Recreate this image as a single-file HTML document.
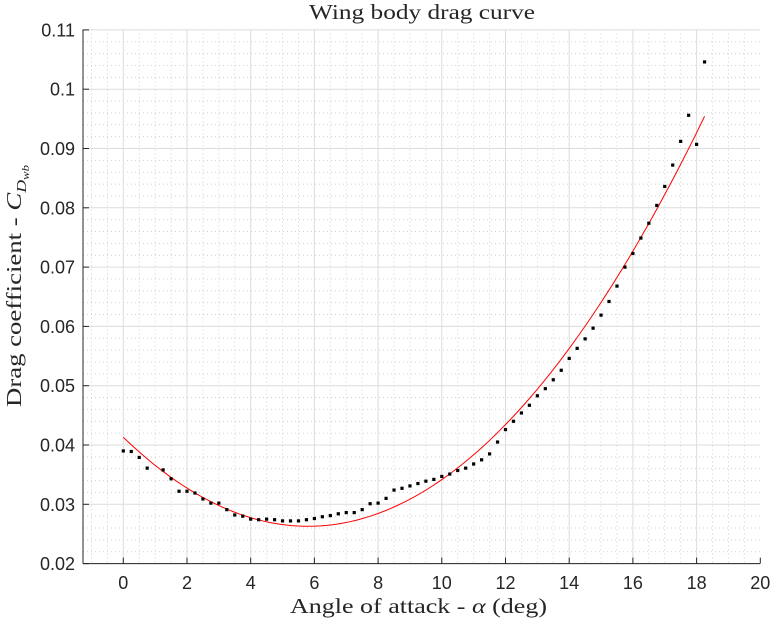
<!DOCTYPE html>
<html><head><meta charset="utf-8"><style>
html,body{margin:0;padding:0;background:#fff;}
svg{display:block;}
.tick{font-family:"Liberation Sans",sans-serif;font-size:18px;fill:#262626;}
.ser{font-family:"Liberation Serif",serif;fill:#262626;}
</style></head><body>
<svg id="chart" width="774" height="627" xmlns="http://www.w3.org/2000/svg">
<g id="grid"></g>
<g id="fit"></g>
<g id="pts"></g>
<g id="axes"></g>
<text class="ser" x="309" y="19" font-size="21" textLength="226" lengthAdjust="spacingAndGlyphs">Wing body drag curve</text>
<text class="ser" x="290" y="613" font-size="21" textLength="257" lengthAdjust="spacingAndGlyphs">Angle of attack - <tspan font-style="italic">α</tspan> (deg)</text>
<text class="ser" transform="translate(21,407) rotate(-90)" font-size="21" textLength="242" lengthAdjust="spacingAndGlyphs">Drag coefficient - <tspan font-style="italic">C</tspan><tspan font-style="italic" font-size="14" dy="5">D</tspan><tspan font-style="italic" font-size="10" dy="3">wb</tspan></text>
</svg>
<script>
const alphaVals=[0,0.25,0.5,0.75,1.25,1.5,1.75,2,2.25,2.5,2.75,3,3.25,3.5,3.75,4,4.25,4.5,4.75,5,5.25,5.5,5.75,6,6.25,6.5,6.75,7,7.25,7.5,7.75,8,8.25,8.5,8.75,9,9.25,9.5,9.75,10,10.25,10.5,10.75,11,11.25,11.5,11.75,12,12.25,12.5,12.75,13,13.25,13.5,13.75,14,14.25,14.5,14.75,15,15.25,15.5,15.75,16,16.25,16.5,16.75,17,17.25,17.5,17.75,18,18.25];
const cdVals=[0.0390,0.0389,0.0379,0.0361,0.0358,0.0343,0.0322,0.0322,0.0319,0.0309,0.0302,0.0302,0.0291,0.0282,0.0280,0.0275,0.0274,0.0275,0.0274,0.0272,0.0272,0.0272,0.0274,0.0276,0.0279,0.0281,0.0284,0.0286,0.0286,0.0291,0.0301,0.0302,0.0310,0.0324,0.0327,0.0331,0.0335,0.0339,0.0342,0.0347,0.0351,0.0357,0.0361,0.0368,0.0375,0.0385,0.0405,0.0426,0.0440,0.0454,0.0467,0.0483,0.0495,0.0510,0.0526,0.0546,0.0563,0.0579,0.0597,0.0619,0.0642,0.0668,0.0700,0.0723,0.0749,0.0774,0.0804,0.0836,0.0872,0.0912,0.0956,0.0907,0.1046];
const fitCoeffs=[0.0413,-0.005174,0.000446];
const fitRange=[0,18.25];
const xTicks=[0,2,4,6,8,10,12,14,16,18,20];
const yTicks=[0.02,0.03,0.04,0.05,0.06,0.07,0.08,0.09,0.1,0.11];
const yTickLabels=["0.02","0.03","0.04","0.05","0.06","0.07","0.08","0.09","0.1","0.11"];

const L=83,R=760,T=29.5,B=563.6;
const X0=123.3,XS=31.85;
const xs=v=>X0+v*XS;
const ys=v=>B-(v-0.02)*5930;
const NS="http://www.w3.org/2000/svg";
function mk(tag,attrs,parent){const e=document.createElementNS(NS,tag);for(const k in attrs)e.setAttribute(k,attrs[k]);parent.appendChild(e);return e;}
const grid=document.getElementById('grid'),axes=document.getElementById('axes'),pts=document.getElementById('pts'),fit=document.getElementById('fit');
for(let v=-1;v<=20.01;v+=0.5){if(Math.abs(v-Math.round(v/2)*2)<1e-6)continue;const x=xs(v);if(x<L||x>R)continue;
 const g=mk('line',{x1:x,x2:x,y1:T,y2:B,stroke:'#d0d0d0','stroke-width':1,'stroke-dasharray':'1,3'},grid);
 }
for(let i=0;i<=45;i++){const v=0.02+i*0.002;if(i%5===0)continue;const y=ys(v);
 const g=mk('line',{x1:L,x2:R,y1:y,y2:y,stroke:'#d0d0d0','stroke-width':1,'stroke-dasharray':'1,3'},grid);
 }
xTicks.forEach(v=>{const x=xs(v);
 if(x<R-1){const g=mk('line',{x1:x,x2:x,y1:T,y2:B,stroke:'#dcdcdc','stroke-width':1},grid);
 }
 const t=mk('line',{x1:x,x2:x,y1:B,y2:B-6,stroke:'#262626','stroke-width':1},axes);
 
 const l=mk('text',{x:x,y:589,'text-anchor':'middle',class:'tick'},axes);l.textContent=String(v);
 });
yTicks.forEach((v,i)=>{const y=ys(v);
 const g=mk('line',{x1:L,x2:R,y1:y,y2:y,stroke:'#dcdcdc','stroke-width':1},grid);
 
 const t=mk('line',{x1:L,x2:L+6,y1:y,y2:y,stroke:'#262626','stroke-width':1},axes);
 
 const l=mk('text',{x:75,y:y+6.5,'text-anchor':'end',class:'tick'},axes);l.textContent=yTickLabels[i];
 });
const bx=mk('line',{x1:L,x2:R,y1:B,y2:B,stroke:'#262626','stroke-width':1},axes);

const ly=mk('line',{x1:L,x2:L,y1:T,y2:B,stroke:'#262626','stroke-width':1},axes);

let d='';for(let i=0;i<=100;i++){const a=fitRange[0]+(fitRange[1]-fitRange[0])*i/100;const c=fitCoeffs[0]+fitCoeffs[1]*a+fitCoeffs[2]*a*a;d+=(i?'L':'M')+xs(a).toFixed(2)+','+ys(c).toFixed(2);}
const fp=mk('path',{d:d,fill:'none',stroke:'#ff0000','stroke-width':1},fit);

alphaVals.forEach((a,i)=>{const r=mk('rect',{x:xs(a)-1.6,y:ys(cdVals[i])-1.6,width:3.2,height:3.2,fill:'#000'},pts);
 });
</script>
</body></html>
